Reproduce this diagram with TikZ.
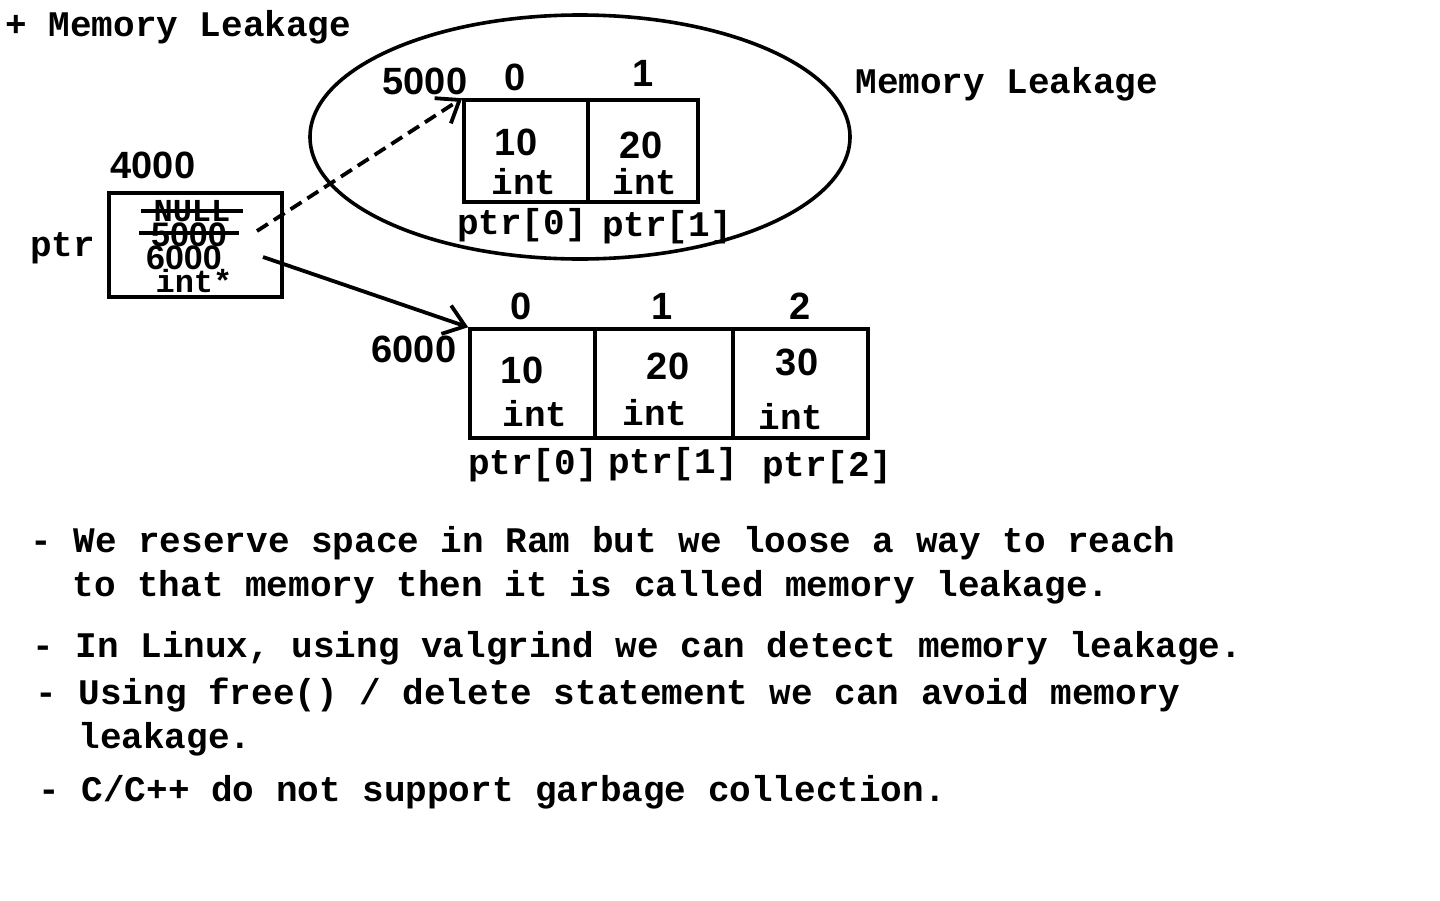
\documentclass[tikz,border=0pt]{standalone}
\usepackage{fontspec}
\setmainfont{Liberation Mono}
\newfontfamily\numfont{Liberation Sans}
\usetikzlibrary{arrows.meta}

\begin{document}
\begin{tikzpicture}[x=0.5pt,y=-0.5pt,
    every node/.style={font=\fontsize{18}{20}\selectfont\bfseries,inner sep=0pt},
    num/.style={font=\fontsize{19}{20}\selectfont\bfseries\numfont},
    small/.style={font=\fontsize{16}{18}\selectfont\bfseries},
    smallnum/.style={font=\fontsize{17}{18}\selectfont\bfseries\numfont},
    cell/.style={draw,line width=1.8pt},
    ptrarrow/.style={line width=1.9pt,-{Straight Barb[length=10pt,width=15pt,line width=1.9pt]}}]
    \useasboundingbox (0,0) rectangle (1440,900);
    \node[anchor=west] (title) at (5,27) {+ Memory Leakage};
    % leaked block
    \draw[line width=1.8pt] (580,137) ellipse [x radius=270,y radius=122];
    \node[anchor=west] (leaklbl) at (855,84) {Memory Leakage};
    \node[num] (addrA) at (425,81) {5000};
    \node[num] (ia0) at (515,77) {0};
    \node[num] (ia1) at (643,73) {1};
    \node[cell,minimum width=62pt,minimum height=51pt] (a0) at (526,151) {};
    \node[cell,minimum width=55pt,minimum height=51pt] (a1) at (643,151) {};
    \node[num] (va0) at (516,142) {10};
    \node (ta0) at (524,182) {int};
    \node[num] (va1) at (641,145) {20};
    \node (ta1) at (645,182) {int};
    \node (na0) at (522,225) {ptr[0]};
    \node (na1) at (667,227) {ptr[1]};
    % pointer
    \node[num] (addrP) at (153,165) {4000};
    \node[anchor=west] (ptrlbl) at (30,248) {ptr};
    \node[cell,minimum width=86.5pt,minimum height=52pt] (pbox) at (195.5,245) {};
    \node[small] (nullval) at (192,211) {NULL};
    \node[smallnum] (oldval) at (189,235) {5000};
    \node[smallnum] (newval) at (184,258) {6000};
    \node[small] (ptype) at (194,281) {int*};
    \draw[line width=1.6pt] ([xshift=-6pt]nullval.west) -- ([xshift=6pt]nullval.east);
    \draw[line width=1.6pt] ([xshift=-6pt,yshift=1pt]oldval.west) -- ([xshift=6pt,yshift=1pt]oldval.east);
    % new block
    \node[num] (addrB) at (414,349) {6000};
    \node[num] (ib0) at (521,306) {0};
    \node[num] (ib1) at (662,306) {1};
    \node[num] (ib2) at (800,306) {2};
    \node[cell,minimum width=62.5pt,minimum height=54.5pt] (b0) at (532.5,383.5) {};
    \node[cell,minimum width=69pt,minimum height=54.5pt] (b1) at (664,383.5) {};
    \node[cell,minimum width=67.5pt,minimum height=54.5pt] (b2) at (800.5,383.5) {};
    \node[num] (vb0) at (522,370) {10};
    \node (tb0) at (535,414) {int};
    \node[num] (vb1) at (668,366) {20};
    \node (tb1) at (655,413) {int};
    \node[num] (vb2) at (797,362) {30};
    \node (tb2) at (791,417) {int};
    \node (nb0) at (533,465) {ptr[0]};
    \node (nb1) at (673,464) {ptr[1]};
    \node (nb2) at (827,467) {ptr[2]};
    % connectors
    \coordinate (fromold) at (257,231);
    \coordinate (fromnew) at (263,257);
    \draw[ptrarrow,dash pattern=on 6.5pt off 3.5pt] (fromold) -- (a0.north west);
    \draw[ptrarrow] (fromnew) -- (b0.north west);
    % notes
    \node[anchor=west] (note1) at (30,543) {- We reserve space in Ram but we loose a way to reach};
    \node[anchor=west] (note1b) at (72,587) {to that memory then it is called memory leakage.};
    \node[anchor=west] (note2) at (32,648) {- In Linux, using valgrind we can detect memory leakage.};
    \node[anchor=west] (note3) at (35,695) {- Using free() / delete statement we can avoid memory};
    \node[anchor=west] (note3b) at (78,739) {leakage.};
    \node[anchor=west] (note4) at (38,792) {- C/C++ do not support garbage collection.};
\end{tikzpicture}
\end{document}
